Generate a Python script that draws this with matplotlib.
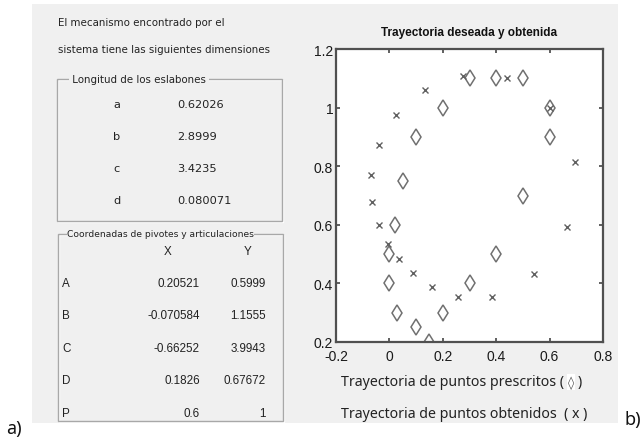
import numpy as np
import matplotlib.pyplot as plt
from matplotlib.patches import Rectangle

W, H = 643, 439

# prescribed trajectory points (diamonds)
prescribed_x = [0.3, 0.4, 0.5, 0.2, 0.1, 0.05, 0.02, 0.0, 0.0, 0.03,
                0.1, 0.15, 0.2, 0.3, 0.4, 0.5, 0.6, 0.6]
prescribed_y = [1.1, 1.1, 1.1, 1.0, 0.9, 0.75, 0.6, 0.5, 0.4, 0.3,
                0.25, 0.2, 0.3, 0.4, 0.5, 0.7, 0.9, 1.0]

# obtained trajectory points (crosses)
obtained_x = [0.277, 0.442, 0.133, 0.026, -0.04, -0.068, -0.064, -0.04, 0.6,
              0.694, 0.664, -0.007, 0.037, 0.087, 0.158, 0.257, 0.385, 0.542]
obtained_y = [1.109, 1.101, 1.061, 0.976, 0.874, 0.769, 0.678, 0.601, 1.0,
              0.813, 0.594, 0.536, 0.483, 0.437, 0.388, 0.354, 0.354, 0.433]

link_names = ['a', 'b', 'c', 'd']
link_lengths = ['0.62026', '2.8999', '3.4235', '0.080071']

joint_names = ['A', 'B', 'C', 'D', 'P']
joint_x = ['0.20521', '-0.070584', '-0.66252', '0.1826', '0.6']
joint_y = ['0.5999', '1.1555', '3.9943', '0.67672', '1']

panel = '#f0f0f0'
ui_font = 'Liberation Sans'
gui_font = 'DejaVu Sans'
txt_font = 'Noto Sans'


def fx(x):
    return x / W


def fy(y):
    return 1 - y / H


def put(x, y, s, **kw):
    kw.setdefault('fontfamily', ui_font)
    kw.setdefault('va', 'center')
    kw.setdefault('color', '#222')
    fig.text(fx(x), fy(y), s, **kw)


def group_box(x0, y0, x1, y1):
    # etched frame like a GUI group panel
    fig.patches.append(Rectangle((fx(x0 + 1), fy(y1 + 1)), fx(x1 - x0), (y1 - y0) / H,
                                 transform=fig.transFigure, fill=False,
                                 edgecolor='white', lw=1))
    fig.patches.append(Rectangle((fx(x0), fy(y1)), fx(x1 - x0), (y1 - y0) / H,
                                 transform=fig.transFigure, fill=False,
                                 edgecolor='#a8a8a8', lw=1))


fig = plt.figure(figsize=(W / 100, H / 100), dpi=100)
fig.patch.set_facecolor('white')
fig.patches.append(Rectangle((fx(32), fy(424)), fx(618 - 32), (424 - 5) / H,
                             transform=fig.transFigure, facecolor=panel,
                             edgecolor='none', zorder=-5))

# left panel
put(58, 23, 'El mecanismo encontrado por el', fontsize=7.4, fontfamily=gui_font)
put(58, 50, 'sistema tiene las siguientes dimensiones', fontsize=7.4,
    fontfamily=gui_font)

group_box(57, 80, 282, 222)
put(69, 80, ' Longitud de los eslabones ', fontsize=7.4, fontfamily=gui_font,
    bbox=dict(facecolor=panel, edgecolor='none', pad=0))
for i, (n, v) in enumerate(zip(link_names, link_lengths)):
    yy = 105 + i * 32
    put(117, yy, n, fontsize=8.2, fontfamily=gui_font, ha='center')
    put(177, yy, v, fontsize=8.2, fontfamily=gui_font)

group_box(58, 235, 283, 422)
put(67, 235, 'Coordenadas de pivotes y articulaciones', fontsize=6.6,
    fontfamily=gui_font,
    bbox=dict(facecolor=panel, edgecolor='none', pad=0))
put(168, 252, 'X', fontsize=8.4, ha='center')
put(248, 252, 'Y', fontsize=8.4, ha='center')
for i, (n, vx, vy) in enumerate(zip(joint_names, joint_x, joint_y)):
    yy = 284 + i * 32.5
    put(62, yy, n, fontsize=8.4)
    put(200, yy, vx, fontsize=8.4, ha='right')
    put(266, yy, vy, fontsize=8.4, ha='right')

# trajectory plot
ax = fig.add_axes([fx(336), fy(343), fx(603 - 336), (343 - 50) / H])
ax.plot(prescribed_x, prescribed_y, linestyle='none', marker='d', markersize=8.5,
        markerfacecolor='none', markeredgecolor='#707070', markeredgewidth=1.1)
ax.plot(obtained_x, obtained_y, linestyle='none', marker='x', markersize=4.8,
        color='#606060', markeredgewidth=1.0)
ax.set_xlim(-0.2, 0.8)
ax.set_ylim(0.2, 1.2)
ax.set_xticks(np.arange(-0.2, 0.81, 0.2))
ax.set_yticks(np.arange(0.2, 1.21, 0.2))
ax.set_xticklabels(['-0.2', '0', '0.2', '0.4', '0.6', '0.8'])
ax.set_yticklabels(['0.2', '0.4', '0.6', '0.8', '1', '1.2'])
ax.tick_params(direction='in', top=True, right=True, length=3, width=1.2,
               color='#444', labelsize=10, labelcolor='#1a1a1a', pad=2)
ax.tick_params(axis='x', pad=5)
for lbl in ax.get_xticklabels() + ax.get_yticklabels():
    lbl.set_fontfamily(ui_font)
for sp in ax.spines.values():
    sp.set_linewidth(1.6)
    sp.set_color('#505050')
ax.set_title('Trayectoria deseada y obtenida', fontsize=8.5, fontweight='bold',
             fontfamily=ui_font, color='#111', pad=10)

put(341, 383, 'Trayectoria de puntos prescritos (', fontsize=10.2,
    fontfamily=txt_font)
put(341, 415, 'Trayectoria de puntos obtenidos  ( x )', fontsize=10.2,
    fontfamily=txt_font)
put(571, 383, '\u25ca', fontsize=9, fontfamily='DejaVu Sans', color='#555',
    ha='center', bbox=dict(facecolor='white', edgecolor='none', pad=1))
put(578, 383, ')', fontsize=10.2, fontfamily=txt_font)

put(6, 429, 'a)', fontsize=13, fontfamily=txt_font, color='#111')
put(624, 420, 'b)', fontsize=13, fontfamily=txt_font, color='#111')

fig.savefig('out.png', dpi=100)
